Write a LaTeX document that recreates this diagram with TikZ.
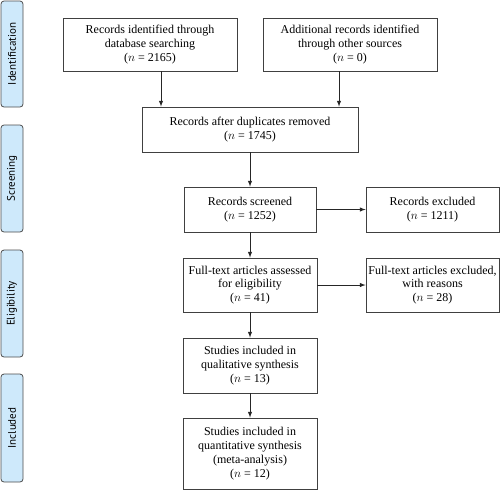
\documentclass[tikz,border=0pt]{standalone}
\usepackage{fontspec}
\setmainfont{Liberation Serif}
\newfontfamily\labelfont{PT Sans}
\usetikzlibrary{arrows,calc}
\definecolor{phaseblue}{RGB}{206,233,251}

\begin{document}
\begin{tikzpicture}[x=1pt,y=-1pt,thick,>=latex]
\tikzstyle{box} = [draw=black!75,fill=white,shape=rectangle,align=center,inner sep=0pt,font=\fontsize{12}{13.8}\selectfont]
\tikzstyle{phase} = [draw=black!70,fill=phaseblue,shape=rectangle,rounded corners=3pt,rotate=90,inner sep=0pt,minimum height=22pt,font=\labelfont\fontsize{11}{13}\selectfont]
\tikzstyle{arr} = [->,black!85,line width=1pt]
\useasboundingbox (0,0) rectangle (500,491);
% phases
\node[phase,minimum width=106pt] (ident) at (12,54) {Identification};
\node[phase,minimum width=107pt] (screen) at (12,178.5) {Screening};
\node[phase,minimum width=107pt] (elig) at (12,303.5) {Eligibility};
\node[phase,minimum width=108pt] (incl) at (12,428) {Included};
% boxes
\node[box,minimum width=174pt,minimum height=53pt] (db) at (150,44.5) {Records identified through\\database searching\\($n$ = 2165)};
\node[box,minimum width=174pt,minimum height=53pt] (other) at (350,44.5) {Additional records identified\\through other sources\\($n$ = 0)};
\node[box,minimum width=216pt,minimum height=45pt] (dup) at (250,129.5) {Records after duplicates removed\\($n$ = 1745)};
\node[box,minimum width=132pt,minimum height=45pt] (scr) at (250,209.5) {Records screened\\($n$ = 1252)};
\node[box,minimum width=133pt,minimum height=45pt] (exc) at (432.5,209.5) {Records excluded\\($n$ = 1211)};
\node[box,minimum width=134pt,minimum height=54pt] (full) at (250,285) {Full-text articles assessed\\for eligibility\\($n$ = 41)};
\node[box,minimum width=133pt,minimum height=54pt] (fexc) at (432.5,285) {Full-text articles excluded,\\with reasons\\($n$ = 28)};
\node[box,minimum width=134pt,minimum height=55pt] (qual) at (250,365.5) {Studies included in\\qualitative synthesis\\($n$ = 13)};
\node[box,minimum width=134pt,minimum height=71pt] (quant) at (250,453.5) {Studies included in\\quantitative synthesis\\(meta-analysis)\\($n$ = 12)};
% arrows
\draw[arr] ([xshift=11pt]db.south) -- ([xshift=11pt]db.south |- dup.north);
\draw[arr] ([xshift=-11pt]other.south) -- ([xshift=-11pt]other.south |- dup.north);
\draw[arr] (dup) -- (scr);
\draw[arr] (scr) -- (exc);
\draw[arr] (scr) -- (full);
\draw[arr] (full) -- (fexc);
\draw[arr] (full) -- (qual);
\draw[arr] (qual) -- (quant);
\end{tikzpicture}
\end{document}
